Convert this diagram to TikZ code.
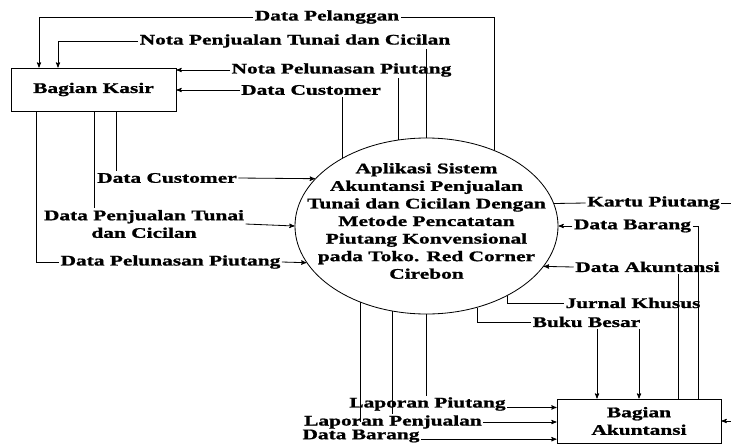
\documentclass[tikz,border=0pt]{standalone}
\usepackage{fontspec}
\setmainfont{Liberation Serif}[FakeStretch=1.46, BoldFeatures={FakeBold=1.2}]
\usetikzlibrary{arrows, shapes.geometric, positioning}
\tikzset{
    entity/.style = {
        draw,
        rectangle,
        align = center,
        inner sep = 0pt
    },
    process/.style = {
        draw,
        ellipse,
        inner sep = 0pt,
        minimum width = 7.89cm,
        minimum height = 5.28cm
    },
    lbl/.style = {
        inner sep = 1pt,
        align = center
    },
    flow/.style = {
        ->, > = stealth'
    }
}

\begin{document}
\begin{tikzpicture}[x=0.03cm, y=-0.03cm, line width=0.7pt,
    every node/.style={font=\fontsize{12.5}{15}\selectfont\bfseries}]
    \useasboundingbox (0,0) rectangle (731,444);

    \node[entity, minimum width=4.95cm, minimum height=1.29cm] (kasir) at (93.5,89.5) {Bagian Kasir};
    \node[entity, minimum width=4.92cm, minimum height=1.32cm] (akun) at (639,421) {Bagian\\Akuntansi};
    \node[process] (app) at (426.5,226) {\smash{\makebox[0pt]{\begin{tabular}{@{}c@{}}
        Aplikasi Sistem\\Akuntansi Penjualan\\Tunai dan Cicilan Dengan\\Metode Pencatatan\\
        Piutang Konvensional\\pada Toko. Red Corner\\Cirebon\end{tabular}}}};

    \node[lbl] (lpel) at (327,17) {Data Pelanggan};
    \node[lbl] (lnpj) at (295,41) {Nota Penjualan Tunai dan Cicilan};
    \node[lbl] (lnpl) at (341.5,70) {Nota Pelunasan Piutang};
    \node[lbl] (lcus1) at (311,90) {Data Customer};
    \node[lbl] (lcus2) at (167,178) {Data Customer};
    \node[lbl] (lpjt) at (144,224) {Data Penjualan Tunai\\dan Cicilan};
    \node[lbl] (lplp) at (170.5,262) {Data Pelunasan Piutang};
    \node[lbl] (lkar) at (653.5,203) {Kartu Piutang};
    \node[lbl] (lbar1) at (632.5,226) {Data Barang};
    \node[lbl] (lakt) at (647.5,267) {Data Akuntansi};
    \node[lbl] (ljur) at (633,303) {Jurnal Khusus};
    \node[lbl] (lbuk) at (586.5,322) {Buku Besar};
    \node[lbl] (llpi) at (427.5,404) {Laporan Piutang};
    \node[lbl] (llpe) at (393,422) {Laporan Penjualan};
    \node[lbl] (lbar2) at (361,436) {Data Barang};

    \draw (app.48) |- (lpel.east);
    \draw[flow] (lpel.west) -| (kasir.north -| 39,0);
    \draw (app.90) -- (app.90 |- lnpj.south);
    \draw[flow] (lnpj.west) -| (kasir.north -| 58,0);
    \draw (app.108) -- (app.108 |- lnpl.south);
    \draw[flow] (lnpl.west) -- (kasir.east |- lnpl.west);
    \draw (app.141) -- (app.141 |- lcus1.south);
    \draw[flow] (lcus1.west) -- (kasir.east |- lcus1.west);

    \draw (kasir.south -| 116,0) -- (lcus2.north -| 116,0);
    \draw[flow] (lcus2.east) -- (app.157);
    \draw (kasir.south -| 94,0) -- (lpjt.north -| 94,0);
    \draw[flow] (lpjt.east) -- (app.180);
    \draw (kasir.south -| 36,0) |- (lplp.west);
    \draw[flow] (lplp.east) -- (app.197);

    \draw (app.10) -- (lkar.west);
    \draw[flow] (lkar.east) -- ++(20,0) |- (akun.east);
    \draw (akun.north -| 698,0) |- (lbar1.east);
    \draw[flow] (lbar1.west) -- (app.0);
    \draw (akun.north -| 678,0) -- (lakt.south -| 678,0);
    \draw[flow] (lakt.west) -- (app.341);
    \draw (app.319) |- (ljur.west);
    \draw[flow] (lbuk.south -| 639,0) -- (akun.north -| 639,0);
    \draw (app.302) |- (lbuk.west);
    \draw[flow] (lbuk.south -| 597,0) -- (akun.north -| 597,0);

    \draw (app.270) -- (app.270 |- llpi.north);
    \draw[flow] (llpi.base east) -- (llpi.base east -| akun.west);
    \draw (app.248) -- (app.248 |- llpe.north);
    \draw[flow] (llpe.east) -- (llpe.east -| akun.west);
    \draw (app.229) -- (app.229 |- llpe);
    \draw[flow] (lbar2.base east) -- (lbar2.base east -| akun.west);
\end{tikzpicture}
\end{document}
